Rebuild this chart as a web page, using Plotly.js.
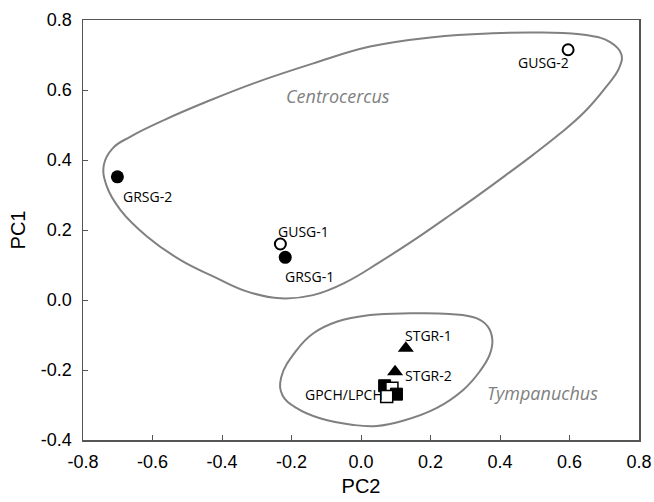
<!DOCTYPE html>
<html>
<head>
<meta charset="utf-8">
<script src="https://cdn.plot.ly/plotly-3.0.1.min.js"></script>
<style>html,body{margin:0;padding:0;background:#fff;}#chart{width:654px;height:502px;}</style>
</head>
<body>
<div id="chart"></div>
<script>
// ---- data ----
// Centrocercus (sage-grouse) samples
var fillCircleNames = ["GRSG-2", "GRSG-1"];
var fillCircleX = [-0.701, -0.218];
var fillCircleY = [0.352, 0.122];

var openCircleNames = ["GUSG-2", "GUSG-1"];
var openCircleX = [0.596, -0.232];
var openCircleY = [0.715, 0.160];

// Tympanuchus samples
var triangleNames = ["STGR-1", "STGR-2"];
var triangleX = [0.129, 0.098];
var triangleY = [-0.138, -0.205];

var fillSquareX = [0.068, 0.102];
var fillSquareY = [-0.245, -0.269];
var openSquareX = [0.089, 0.074];
var openSquareY = [-0.252, -0.276];

// group outline vertices (hand traced)
var centroHullX = [-0.309, -0.137, 0.026, 0.207, 0.379, 0.522, 0.648, 0.717, 0.749, 0.743, 0.703, 0.643, 0.571, 0.494, 0.413, 0.330, 0.244, 0.152, 0.055, -0.043, -0.138, -0.232, -0.327, -0.424, -0.519, -0.615, -0.692, -0.732, -0.740, -0.714, -0.663, -0.567, -0.443, -0.309];
var centroHullY = [0.619, 0.676, 0.724, 0.751, 0.762, 0.764, 0.757, 0.737, 0.703, 0.663, 0.606, 0.537, 0.474, 0.414, 0.354, 0.294, 0.234, 0.171, 0.109, 0.051, 0.014, 0.005, 0.024, 0.067, 0.114, 0.181, 0.257, 0.326, 0.386, 0.434, 0.467, 0.514, 0.567, 0.619];

var tympHullX = [0.026, 0.141, 0.255, 0.332, 0.365, 0.378, 0.370, 0.341, 0.294, 0.217, 0.121, 0.045, -0.022, -0.118, -0.185, -0.226, -0.230, -0.185, -0.137, -0.070, 0.026];
var tympHullY = [-0.043, -0.038, -0.040, -0.052, -0.076, -0.114, -0.157, -0.205, -0.257, -0.309, -0.345, -0.360, -0.357, -0.338, -0.309, -0.272, -0.222, -0.143, -0.095, -0.062, -0.043];

var groupNames = ["Centrocercus", "Tympanuchus"];
var groupLabelX = [-0.066, 0.522];
var groupLabelY = [0.583, -0.266];

var xTicks = [-0.8, -0.6, -0.4, -0.2, 0.0, 0.2, 0.4, 0.6, 0.8];
var yTicks = [-0.4, -0.2, 0.0, 0.2, 0.4, 0.6, 0.8];
function fmt(v){ return v.toFixed(1); }

// ---- traces ----
var hullLine = {color: '#808080', width: 2, shape: 'spline', smoothing: 1.2};
var traces = [
  {type: 'scatter', mode: 'lines', x: centroHullX, y: centroHullY, line: hullLine, hoverinfo: 'skip'},
  {type: 'scatter', mode: 'lines', x: tympHullX, y: tympHullY, line: hullLine, hoverinfo: 'skip'},
  {type: 'scatter', mode: 'markers', x: fillCircleX, y: fillCircleY, text: fillCircleNames,
   marker: {symbol: 'circle', size: 13, color: '#000', line: {width: 0}}},
  {type: 'scatter', mode: 'markers', x: openCircleX, y: openCircleY, text: openCircleNames,
   marker: {symbol: 'circle', size: 11, color: '#fff', line: {width: 2, color: '#000'}}},
  {type: 'scatter', mode: 'markers', x: triangleX, y: triangleY, text: triangleNames,
   marker: {symbol: 'triangle-up', size: 14, color: '#000', line: {width: 0}}}
];
// squares drawn alternately filled / open so they overlap like the reference
for (var i = 0; i < fillSquareX.length; i++) {
  traces.push({type: 'scatter', mode: 'markers', x: [fillSquareX[i]], y: [fillSquareY[i]],
    marker: {symbol: 'square', size: 12, color: '#000', line: {width: 1, color: '#000'}}});
  traces.push({type: 'scatter', mode: 'markers', x: [openSquareX[i]], y: [openSquareY[i]],
    marker: {symbol: 'square', size: 12, color: '#fff', line: {width: 1.5, color: '#000'}}});
}

// ---- labels ----
var lblFont = {family: 'Open Sans, sans-serif', size: 14, color: '#000'};
function lab(txt, x, y, xa, xs, ys) {
  return {text: txt, x: x, y: y, xref: 'x', yref: 'y', showarrow: false, xanchor: xa, yanchor: 'middle',
          xshift: xs, yshift: ys, font: lblFont};
}
var annotations = [
  lab(fillCircleNames[0], fillCircleX[0], fillCircleY[0], 'left', 4, -20),
  lab(fillCircleNames[1], fillCircleX[1], fillCircleY[1], 'left', -2, -19),
  lab(openCircleNames[0], openCircleX[0], openCircleY[0], 'right', 3, -13),
  lab(openCircleNames[1], openCircleX[1], openCircleY[1], 'left', -4, 13),
  lab(triangleNames[0], triangleX[0], triangleY[0], 'left', -3, 13),
  lab(triangleNames[1], triangleX[1], triangleY[1], 'left', 8, -4),
  lab('GPCH/LPCH', openSquareX[1], openSquareY[1], 'right', -2, 2)
];
for (var g = 0; g < groupNames.length; g++) {
  annotations.push({text: '<i>' + groupNames[g] + '</i>', x: groupLabelX[g], y: groupLabelY[g], xref: 'x', yref: 'y',
    showarrow: false, xanchor: 'center', yanchor: 'middle',
    font: {family: 'Open Sans, sans-serif', size: 18, color: '#7f7f7f'}});
}

var axisCommon = {
  showgrid: false, zeroline: false, showline: true, mirror: true,
  linecolor: '#555', linewidth: 1.5,
  ticks: 'inside', ticklen: 5, tickwidth: 1, tickcolor: '#555',
  tickfont: {family: 'Arial, Liberation Sans, sans-serif', size: 18, color: '#000'}
};

var layout = {
  width: 654, height: 502,
  margin: {l: 83, r: 15, t: 20, b: 62},
  paper_bgcolor: '#fff', plot_bgcolor: '#fff',
  showlegend: false,
  xaxis: Object.assign({}, axisCommon, {
    range: [-0.8, 0.8], tickvals: xTicks, ticktext: xTicks.map(fmt),
    ticklabelstandoff: 5,
    title: {text: 'PC2', standoff: 8, font: {family: 'Arial, Liberation Sans, sans-serif', size: 20, color: '#000'}}
  }),
  yaxis: Object.assign({}, axisCommon, {
    range: [-0.4, 0.8], tickvals: yTicks, ticktext: yTicks.map(fmt),
    ticklabelstandoff: 6,
    title: {text: 'PC1', standoff: 10, font: {family: 'Arial, Liberation Sans, sans-serif', size: 20, color: '#000'}}
  }),
  annotations: annotations
};

Plotly.newPlot('chart', traces, layout, {displayModeBar: false, staticPlot: true});
</script>
</body>
</html>
